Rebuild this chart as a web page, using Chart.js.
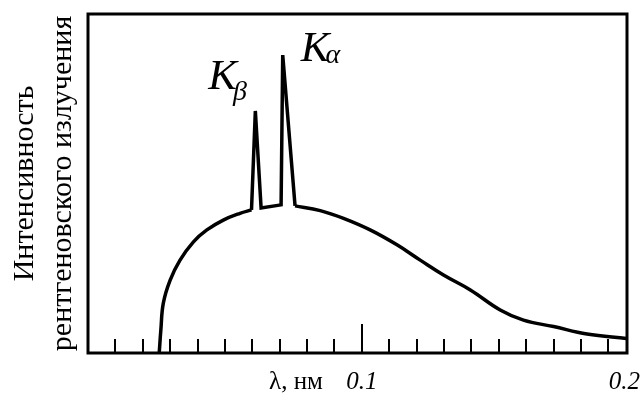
<!DOCTYPE html>
<html>
<head>
<meta charset="utf-8">
<script src="https://cdn.jsdelivr.net/npm/chart.js@4/dist/chart.umd.min.js"></script>
<style>
  html, body { margin: 0; padding: 0; background: #fff; }
  #wrap { width: 642px; height: 396px; position: relative; }
</style>
</head>
<body>
<div id="wrap"><canvas id="c"></canvas></div>
<script>
// Bremsstrahlung continuum, short-wavelength side (λ in nm, intensity in arbitrary units)
const riseLambda = [0.0260, 0.0266, 0.0275, 0.0300, 0.0336, 0.0385, 0.0434, 0.0494, 0.0555, 0.0597];
const riseIntensity = [0, 6.8, 14.7, 21.5, 27.4, 32.8, 36.3, 39.2, 41.2, 42.2];

// Characteristic lines Kβ and Kα on top of the continuum
const lineLambda = [0.0597, 0.0611, 0.0632, 0.0705, 0.0711, 0.0756];
const lineIntensity = [42.2, 71.4, 42.8, 43.7, 87.9, 43.4];

// Continuum, long-wavelength tail
const tailLambda = [0.0756, 0.0848, 0.0933, 0.1030, 0.1128, 0.1213, 0.1298, 0.1396, 0.1505, 0.1590, 0.1700, 0.1822, 0.1966];
const tailIntensity = [43.4, 42.0, 39.7, 36.3, 31.9, 27.4, 23.0, 18.6, 12.7, 9.7, 7.8, 5.6, 4.3];

// Axis ticks and labels
const tickValues = [0.01, 0.02, 0.03, 0.04, 0.05, 0.06, 0.07, 0.08, 0.09, 0.10,
                    0.11, 0.12, 0.13, 0.14, 0.15, 0.16, 0.17, 0.18, 0.19];
const majorTick = 0.10;
const xMax = 0.1968;
const tickLabelTexts = ["0.1", "0.2"];
const xUnitLabel = "λ, нм";
const yTitleLines = ["Интенсивность", "рентгеновского излучения"];
const peakNames = [["K", "β"], ["K", "α"]];

const SERIF = '"Liberation Serif", "Times New Roman", serif';

function toPoints(xs, ys) {
  return xs.map((x, i) => ({ x: x, y: ys[i] }));
}

const framePlugin = {
  id: 'frame',
  afterDatasetsDraw(chart) {
    const { ctx, chartArea: a, scales } = chart;
    const xs = scales.x;
    ctx.save();
    ctx.strokeStyle = '#000';
    ctx.lineWidth = 3;
    ctx.strokeRect(a.left, a.top, a.right - a.left, a.bottom - a.top);

    // tick marks pointing into the plot from the bottom edge
    ctx.lineWidth = 2;
    tickValues.forEach(v => {
      const px = Math.round(xs.getPixelForValue(v));
      const len = Math.abs(v - majorTick) < 1e-9 ? 29 : 14;
      ctx.beginPath();
      ctx.moveTo(px, a.bottom);
      ctx.lineTo(px, a.bottom - len);
      ctx.stroke();
    });

    // axis labels
    ctx.fillStyle = '#000';
    ctx.textBaseline = 'alphabetic';
    const baseY = a.bottom + 35.5;
    const p01 = xs.getPixelForValue(majorTick);
    ctx.font = 'italic 25px ' + SERIF;
    ctx.textAlign = 'center';
    ctx.fillText(tickLabelTexts[0], p01, baseY);
    ctx.textAlign = 'right';
    ctx.fillText(tickLabelTexts[1], xs.getPixelForValue(xMax) + 13, baseY);
    ctx.font = '25px ' + SERIF;
    ctx.textAlign = 'right';
    ctx.fillText(xUnitLabel, p01 - 39, baseY);

    // vertical axis title, two lines
    const cy = (a.top + a.bottom) / 2;
    ctx.save();
    ctx.translate(0, cy);
    ctx.rotate(-Math.PI / 2);
    ctx.textAlign = 'center';
    ctx.font = '30px ' + SERIF;
    ctx.fillText(yTitleLines[0], 0, 33);
    ctx.fillText(yTitleLines[1], 0, 71);
    ctx.restore();

    // peak names next to the line tips
    const ys = scales.y;
    const tips = [
      { x: lineLambda[1], y: lineIntensity[1], dx: -47, dy: -22, subDy: 11 },
      { x: lineLambda[4], y: lineIntensity[4], dx: 18, dy: 6, subDy: 2 }
    ];
    tips.forEach((t, i) => {
      const px = xs.getPixelForValue(t.x) + t.dx;
      const py = ys.getPixelForValue(t.y) + t.dy;
      ctx.textAlign = 'left';
      ctx.font = 'italic 43px ' + SERIF;
      ctx.fillText(peakNames[i][0], px, py);
      const w = ctx.measureText(peakNames[i][0]).width;
      ctx.font = 'italic 28px ' + SERIF;
      ctx.fillText(peakNames[i][1], px + w - 4, py + t.subDy);
    });
    ctx.restore();
  }
};

const lineStyle = {
  borderColor: '#000',
  borderWidth: 3.5,
  pointRadius: 0,
  fill: false
};

new Chart(document.getElementById('c'), {
  type: 'line',
  data: {
    datasets: [
      Object.assign({ label: 'rise', data: toPoints(riseLambda, riseIntensity),
        tension: 0.4 }, lineStyle),
      Object.assign({ label: 'lines', data: toPoints(lineLambda, lineIntensity),
        tension: 0, borderJoinStyle: 'miter' }, lineStyle),
      Object.assign({ label: 'tail', data: toPoints(tailLambda, tailIntensity),
        tension: 0.4 }, lineStyle)
    ]
  },
  options: {
    responsive: true,
    maintainAspectRatio: false,
    animation: false,
    layout: { padding: { left: 88, top: 14, right: 15, bottom: 43 } },
    plugins: { legend: { display: false }, tooltip: { enabled: false } },
    scales: {
      x: { type: 'linear', min: 0, max: xMax, display: false },
      y: { type: 'linear', min: 0, max: 100, display: false }
    }
  },
  plugins: [framePlugin]
});
</script>
</body>
</html>
